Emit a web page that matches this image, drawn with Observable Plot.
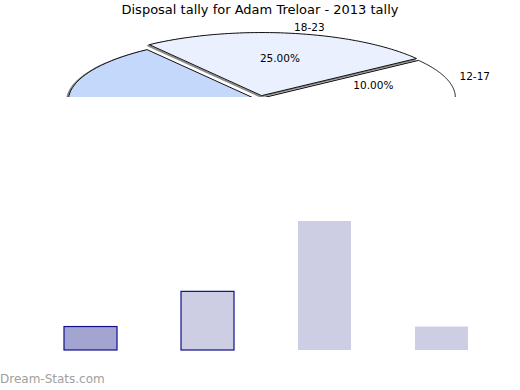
<!DOCTYPE html>
<html><head><meta charset="utf-8">
<script src="https://cdn.jsdelivr.net/npm/d3@7"></script>
<script src="https://cdn.jsdelivr.net/npm/@observablehq/plot@0.6"></script>
<style>
body{margin:0;background:#fff;width:520px;height:390px;position:relative;overflow:hidden;font-family:"DejaVu Sans",sans-serif}
#title{position:absolute;left:0;top:2px;width:520px;text-align:center;font-size:13px;color:#000;line-height:16px}
#pie{position:absolute;left:0;top:17px}
#bars{position:absolute;left:0;top:200px}
#caption{position:absolute;left:0;top:372px;font-size:12px;color:#a0a0a0;line-height:14px}
svg{overflow:hidden}
</style></head><body>
<div id="title">Disposal tally for Adam Treloar - 2013 tally</div>
<div id="pie"></div>
<div id="bars"></div>
<div id="caption">Dream-Stats.com</div>
<script>
// ---- data ----
const categories = ["12-17", "18-23", "24-29", "30-35"];
const tally = [2, 5, 11, 2];
const pieColors = ["#ffffff", "#eaf0fe", "#c4d8fc", "#9fbef9"];

// ---- pie (3D-style ellipse, cropped at its centre line) ----
const RX = 191, RY = 63, EXPLODE = 3;
const total = d3.sum(tally);
let acc = 0;
const slices = categories.map((c, i) => {
  const a0 = acc; acc += tally[i] / total * 2 * Math.PI;
  const a1 = acc, mid = (a0 + a1) / 2;
  const ex = EXPLODE / RX * Math.cos(mid), ey = EXPLODE / RY * Math.sin(mid);
  const pts = [{x: ex, y: ey}];
  const n = 80;
  for (let k = 0; k <= n; k++) {
    const t = a0 + (a1 - a0) * k / n;
    pts.push({x: ex + Math.cos(t), y: ey + Math.sin(t)});
  }
  return {c, i, mid, pct: tally[i] / total, ex, ey, pts};
});
// only the upper half of the pie is visible, so only its labels are drawn
const visible = slices.filter(s => Math.sin(s.mid) > 0);

const pieMarks = [];
slices.forEach(s => pieMarks.push(Plot.line(s.pts, {x: "x", y: "y", curve: "linear-closed", fill: "none", stroke: "#8a8a8a", strokeWidth: 2, dx: -1.5, dy: 1})));
slices.forEach(s => pieMarks.push(Plot.line(s.pts, {x: "x", y: "y", curve: "linear-closed", fill: pieColors[s.i], stroke: "#111", strokeWidth: 1})));
pieMarks.push(Plot.text(visible, {
  x: s => s.ex + 0.6 * Math.cos(s.mid), y: s => s.ey + 0.6 * Math.sin(s.mid),
  text: s => (s.pct * 100).toFixed(2) + "%", fontSize: 10.5, fill: "#000"
}));
pieMarks.push(Plot.text(visible.filter(s => Math.cos(s.mid) >= 0), {
  x: s => 1.09 * Math.cos(s.mid), y: s => 1.14 * Math.sin(s.mid),
  text: "c", fontSize: 10.5, fill: "#000", textAnchor: "start"
}));
pieMarks.push(Plot.text(visible.filter(s => Math.cos(s.mid) < 0), {
  x: s => 1.09 * Math.cos(s.mid), y: s => 1.14 * Math.sin(s.mid),
  text: "c", fontSize: 10.5, fill: "#000", textAnchor: "end"
}));

const pie = Plot.plot({
  width: 520, height: 80,
  margin: 0,
  x: {domain: [-1, 1], range: [261 - RX, 261 + RX], axis: null},
  y: {domain: [-1, 1], range: [81 + RY, 81 - RY], axis: null},
  style: {background: "transparent", overflow: "hidden", fontFamily: "DejaVu Sans"},
  marks: pieMarks
});
document.getElementById("pie").appendChild(pie);

// ---- bars ----
const rows = categories.map((c, i) => ({cat: c, n: tally[i]}));
const bars = Plot.plot({
  width: 520, height: 160,
  marginTop: 21, marginBottom: 10, marginLeft: 0, marginRight: 0,
  x: {domain: categories, range: [0, 532], paddingInner: 0.547, paddingOuter: 0.547, axis: null},
  y: {domain: [0, 11], axis: null},
  style: {background: "transparent", overflow: "hidden"},
  marks: [
    Plot.barY(rows, {x: "cat", y: "n", fill: "#cdcde4"}),
    Plot.barY(rows.slice(0, 1), {x: "cat", y: "n", fill: "#a3a5d0"}),
    Plot.barY(rows.slice(0, 2), {x: "cat", y: "n", fill: "none", stroke: "#10108a", strokeWidth: 1.2})
  ]
});
document.getElementById("bars").appendChild(bars);
</script>
</body></html>
